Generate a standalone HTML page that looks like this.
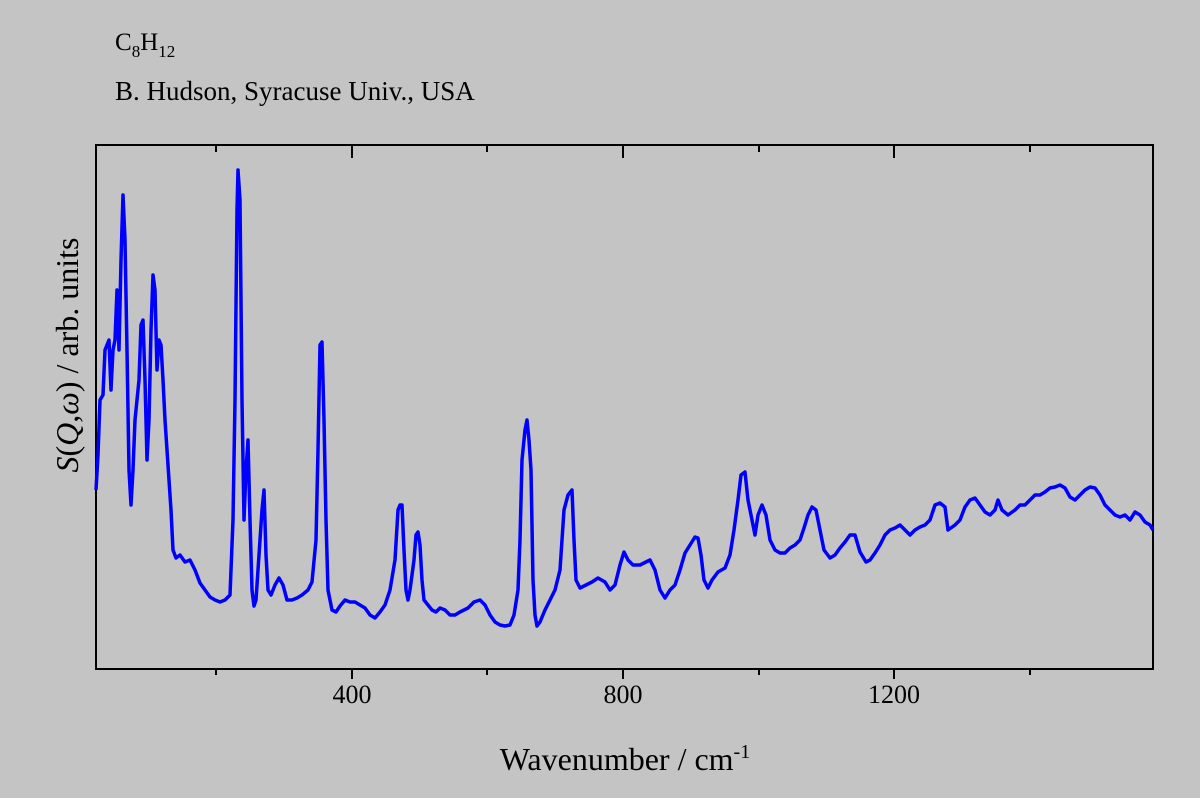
<!DOCTYPE html>
<html><head><meta charset="utf-8"><style>
html,body{margin:0;padding:0;background:#c4c4c4;}
svg{display:block;font-family:"Liberation Serif",serif;}
</style></head><body>
<svg width="1200" height="798" viewBox="0 0 1200 798">
<rect width="1200" height="798" fill="#c4c4c4"/>
<text x="115" y="50" font-size="25">C<tspan font-size="17" dy="7">8</tspan><tspan dy="-7">H</tspan><tspan font-size="17" dy="7">12</tspan></text>
<text x="115" y="100" font-size="27">B. Hudson, Syracuse Univ., USA</text>
<rect x="96" y="145" width="1057" height="524" fill="none" stroke="#000" stroke-width="2"/>
<g stroke="#000" stroke-width="2">
<line x1="352" y1="669" x2="352" y2="679"/><line x1="623" y1="669" x2="623" y2="679"/><line x1="894" y1="669" x2="894" y2="679"/>
<line x1="216" y1="669" x2="216" y2="675"/><line x1="487" y1="669" x2="487" y2="675"/><line x1="759" y1="669" x2="759" y2="675"/><line x1="1030" y1="669" x2="1030" y2="675"/>
<line x1="352" y1="145" x2="352" y2="158"/><line x1="623" y1="145" x2="623" y2="158"/><line x1="894" y1="145" x2="894" y2="158"/>
<line x1="216" y1="145" x2="216" y2="152"/><line x1="487" y1="145" x2="487" y2="152"/><line x1="759" y1="145" x2="759" y2="152"/><line x1="1030" y1="145" x2="1030" y2="152"/>
</g>
<g font-size="26" text-anchor="middle">
<text x="352" y="703">400</text><text x="623" y="703">800</text><text x="894" y="703">1200</text>
</g>
<text x="625" y="770" font-size="32" text-anchor="middle">Wavenumber / cm<tspan font-size="20" dy="-12">-1</tspan></text>
<text transform="translate(78,355) rotate(-90)" font-size="32" text-anchor="middle"><tspan font-style="italic">S</tspan>(<tspan font-style="italic">Q</tspan>,<tspan font-style="italic">ω</tspan>) / arb. units</text>
<polyline fill="none" stroke="#0000ff" stroke-width="3.5" stroke-linejoin="round" points="96,490 98,455 100,400 103,395 105,350 107,345 109,340 111,390 113,350 115,340 117,290 119,350 121,260 123,195 125,240 127,350 129,470 131,505 133,470 135,420 137,400 139,380 141,325 143,320 145,380 147,460 149,420 151,330 153,275 155,290 157,370 159,340 161,345 163,380 165,420 167,450 169,480 171,510 173,550 176,558 180,555 185,562 190,560 195,570 200,583 205,590 210,597 215,600 220,602 225,600 230,595 233,520 235,400 237,210 238,170 240,200 242,400 244,520 246,470 248,440 250,520 252,590 254,606 256,600 258,570 260,540 262,510 264,490 266,555 268,590 271,595 275,585 279,578 283,585 287,600 292,600 297,598 302,595 308,590 312,582 316,540 318,450 320,345 322,342 324,420 326,520 328,590 332,610 336,612 340,606 345,600 350,602 355,602 360,605 365,608 370,615 375,618 380,612 385,605 390,590 395,560 398,510 400,505 402,505 404,550 406,590 408,600 410,590 414,560 416,535 418,532 420,545 422,580 424,600 428,605 432,610 436,612 440,608 445,610 450,615 455,615 460,612 468,608 474,602 480,600 485,605 490,615 495,622 500,625 505,626 510,625 514,615 518,590 520,540 522,460 525,430 527,420 529,440 531,470 533,580 535,615 537,626 540,622 545,610 550,600 555,590 560,570 564,510 568,495 572,490 574,540 576,580 580,588 586,585 592,582 598,578 605,582 610,590 615,585 620,565 624,552 628,560 633,565 640,565 646,562 650,560 655,570 660,590 665,598 670,590 675,585 680,570 685,553 690,545 695,537 698,538 701,555 704,580 708,588 712,580 718,572 725,568 730,555 734,530 738,500 741,475 745,472 748,500 752,520 755,535 758,515 762,505 766,515 770,540 775,550 780,553 785,553 790,548 795,545 800,540 804,528 808,515 812,507 816,510 820,530 824,550 830,558 835,555 840,548 845,542 850,535 855,535 860,552 866,562 870,560 875,553 880,545 885,535 890,530 895,528 900,525 905,530 910,535 915,530 920,527 925,525 930,520 935,505 940,503 945,507 948,530 955,525 960,520 965,507 970,500 975,498 980,505 985,512 990,515 995,510 998,500 1002,510 1008,515 1015,510 1020,505 1025,505 1030,500 1035,495 1040,495 1045,492 1050,488 1055,487 1060,485 1065,488 1070,497 1075,500 1080,495 1085,490 1090,487 1095,488 1100,495 1105,505 1110,510 1115,515 1120,517 1125,515 1130,520 1135,512 1140,515 1145,522 1150,525 1153,530"/>
</svg>
</body></html>
